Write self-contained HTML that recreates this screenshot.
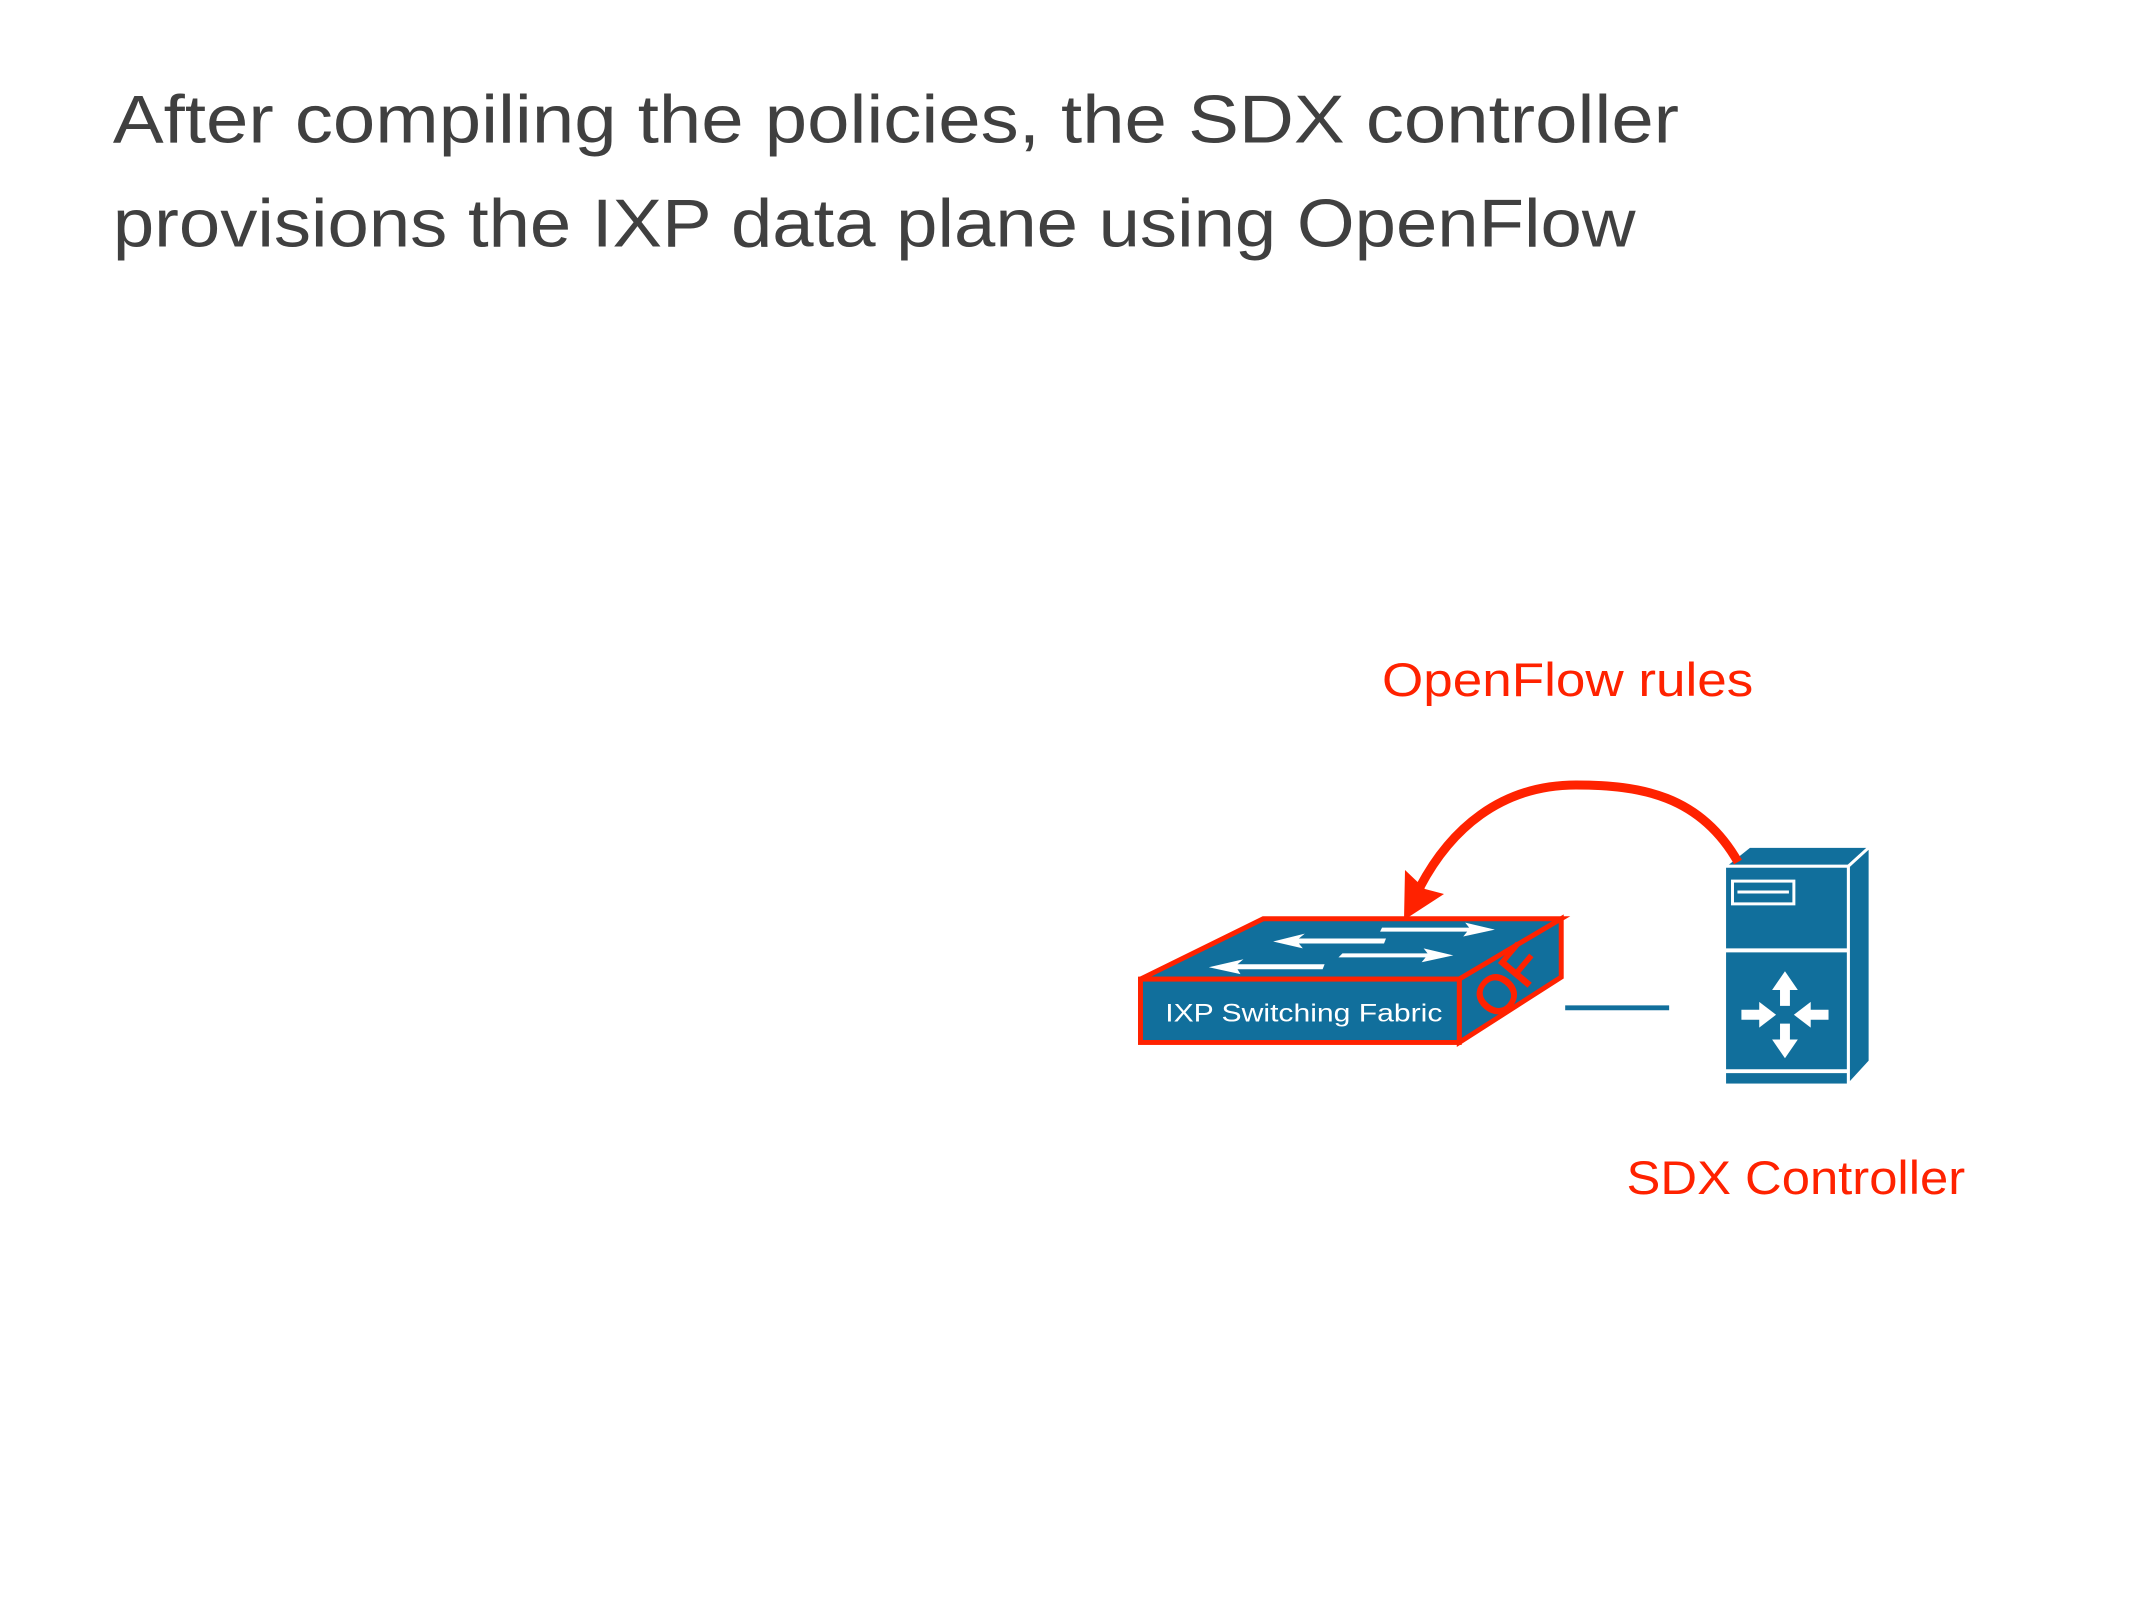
<!DOCTYPE html>
<html><head><meta charset="utf-8"><style>
html,body{margin:0;padding:0;background:#fff;}
svg{display:block;}
</style></head><body>
<svg width="2134" height="1600" viewBox="0 0 2134 1600" xmlns="http://www.w3.org/2000/svg">
<rect width="2134" height="1600" fill="#fff"/>
<g transform="scale(0.99)">
<g font-family="Liberation Sans, sans-serif" fill="#404040" font-size="68">
<text x="114" y="144" textLength="1582" lengthAdjust="spacingAndGlyphs">After compiling the policies, the SDX controller</text>
<text x="114" y="249" textLength="1538" lengthAdjust="spacingAndGlyphs">provisions the IXP data plane using OpenFlow</text>
</g>
<g font-family="Liberation Sans, sans-serif" fill="#ff2200" font-size="48">
<text x="1396" y="703" textLength="375" lengthAdjust="spacingAndGlyphs">OpenFlow rules</text>
<text x="1643" y="1206" textLength="342" lengthAdjust="spacingAndGlyphs">SDX Controller</text>
</g>
<!-- switch -->
<g stroke="#ff2200" stroke-width="5" stroke-linejoin="miter">
<polygon points="1152,989 1276,928 1577,928 1474,989" fill="#116f9c"/>
<polygon points="1474,989 1577,928 1577,987 1474,1053" fill="#116f9c"/>
<rect x="1152" y="989" width="322" height="64" fill="#116f9c"/>
</g>
<g fill="#fff" stroke="none">
<polygon points="1396,937 1484,937 1480,932 1510,939 1478,946 1482,941 1394,941"/>
<polygon points="1400,948 1312,948 1318,943 1286,951 1316,958 1312,953 1398,953"/>
<polygon points="1356,963 1442,963 1438,958 1468,965 1436,972 1440,967 1352,967"/>
<polygon points="1338,974 1250,974 1256,969 1221,977 1253,984 1250,979 1336,979"/>
</g>
<text x="1317" y="1032" fill="#fff" font-family="Liberation Sans, sans-serif" font-size="25" text-anchor="middle" textLength="280" lengthAdjust="spacingAndGlyphs">IXP Switching Fabric</text>
<line x1="1581" y1="1018" x2="1686" y2="1018" stroke="#116f9c" stroke-width="5"/>
<!-- server -->
<g fill="#116f9c" stroke="#fff" stroke-width="3">
<polygon points="1742,875 1767,855 1889,855 1867,875"/>
<polygon points="1867,875 1889,855 1889,1072 1867,1096"/>
<rect x="1742" y="875" width="125" height="221"/>
</g>
<line x1="1742" y1="960" x2="1867" y2="960" stroke="#fff" stroke-width="4"/>
<line x1="1742" y1="1082" x2="1867" y2="1082" stroke="#fff" stroke-width="4"/>
<rect x="1750" y="890" width="62" height="23" fill="none" stroke="#fff" stroke-width="3"/>
<line x1="1755" y1="901" x2="1807" y2="901" stroke="#fff" stroke-width="3"/>
<g fill="#fff">
<polygon points="1803,981 1816,1000 1808,1000 1808,1016 1798,1016 1798,1000 1790,1000"/>
<polygon points="1803,1069 1816,1050 1808,1050 1808,1034 1798,1034 1798,1050 1790,1050"/>
<polygon points="1794,1025 1777,1012 1777,1020 1759,1020 1759,1030 1777,1030 1777,1038"/>
<polygon points="1812,1025 1829,1012 1829,1020 1847,1020 1847,1030 1829,1030 1829,1038"/>
</g>
</g>
<text x="1508" y="1000" fill="#ff2200" stroke="#ff2200" stroke-width="1.5" font-family="Liberation Sans, sans-serif" font-size="54" text-anchor="middle" transform="rotate(-50 1508 982)">OF</text>
<!-- arc arrow -->
<path d="M1738,862 C1700,795 1640,785 1576,785 C1500,785 1450,830 1420,887" fill="none" stroke="#ff2200" stroke-width="9"/>
<polygon points="1405,870 1404,920 1444,894 1425,889" fill="#ff2200"/>
</svg>
</body></html>
